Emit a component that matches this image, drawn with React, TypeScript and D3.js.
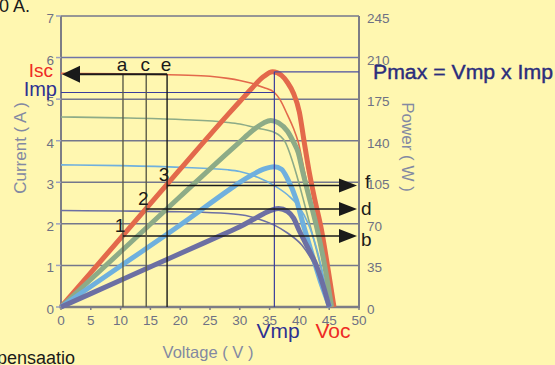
import React from "react";
import * as d3 from "d3";

const voltTicks = [0, 5, 10, 15, 20, 25, 30, 35, 40, 45, 50];
const currentTicks = [0, 1, 2, 3, 4, 5, 6, 7];
const powerTicks = [0, 35, 70, 105, 140, 175, 210, 245];

// I-V curves [volts, amps]
const redIV = [[0, 5.62], [10, 5.61], [20, 5.58], [25, 5.55], [28, 5.5], [30, 5.45], [32, 5.38], [34, 5.28], [35.8, 5.16], [36.7, 5.0], [38, 4.62], [39, 4.3], [39.8, 3.97], [40.8, 3.29], [42, 2.5], [43.5, 1.4], [45.6, 0]];
const greenIV = [[0, 4.57], [10, 4.55], [20, 4.51], [28, 4.44], [30, 4.4], [33, 4.3], [35.8, 4.2], [37.6, 3.97], [39.3, 3.29], [41, 2.4], [43, 1.3], [45.3, 0]];
const lightIV = [[0, 3.42], [10, 3.4], [20, 3.36], [28, 3.3], [30, 3.26], [33, 3.12], [35.8, 2.92], [38, 2.7], [40, 2.4], [41.5, 2.0], [43, 1.35], [45.1, 0]];
const darkIV = [[0, 2.32], [10, 2.31], [20, 2.29], [28, 2.25], [31, 2.2], [33.5, 2.1], [35.8, 1.97], [38, 1.78], [40.4, 1.49], [42, 1.15], [43.5, 0.7], [45, 0]];

// P-V curves [volts, watts]
const redP = [[0, 0], [10, 58], [20, 116], [28, 162], [30, 173], [32, 184], [34, 194], [35.5, 198], [37, 195], [38, 189], [39, 180], [40, 164], [40.8, 139], [41.6, 115], [42.6, 90], [43.7, 65], [44.8, 32], [45.8, 0]];
const greenP = [[0, 0], [10, 46.5], [20, 93], [28, 130], [30, 139], [32, 148], [34, 155], [35.2, 157], [36.5, 155], [38, 148], [39, 139], [39.8, 130], [40.5, 115], [41.5, 95], [43, 65], [44.2, 36], [45.4, 0]];
const lightP = [[0, 0], [10, 34.5], [20, 69], [28, 98], [30, 105], [32, 111], [34, 116], [35.8, 118], [37, 116], [38, 108], [39.5, 90], [40.5, 72], [41.8, 50], [43.5, 22], [45.1, 0]];
const darkP = [[0, 0], [10, 22.5], [20, 45], [28, 63], [30, 67.5], [32, 73], [34, 78.5], [36.5, 83], [38, 80.5], [39, 75], [40, 64], [41, 54], [42, 44], [43, 33], [44, 18], [45, 0]];

const curveColors = ["#e3694b", "#8dab87", "#6fb0de", "#6c6fa3"];
const ivCurves = [redIV, greenIV, lightIV, darkIV];
const pCurves = [redP, greenP, lightP, darkP];

const markerVolts = [10.4, 14.3, 17.8];
const markerLetters = ["a", "c", "e"];
const arrowPowers = [59.8, 82.5, 102.3];
const arrowLetters = ["b", "d", "f"];
const pointLabels = ["1", "2", "3"];

const isc = 5.6;
const imp = 5.16;
const vmp = 35.8;
const pmax = 198;

const W = 555;
const H = 365;
const font = "Liberation Sans, Arial, sans-serif";

export default function App() {
  const x = d3.scaleLinear().domain([0, 50]).range([61, 359]);
  const yI = d3.scaleLinear().domain([0, 7]).range([307, 16]);
  const yP = d3.scaleLinear().domain([0, 245]).range([307, 16]);

  const ivLine = d3
    .line<number[]>()
    .x((d) => x(d[0]))
    .y((d) => yI(d[1]))
    .curve(d3.curveMonotoneX);
  const pLine = d3
    .line<number[]>()
    .x((d) => x(d[0]))
    .y((d) => yP(d[1]))
    .curve(d3.curveMonotoneX);

  const tickColor = "#6e7184";
  const titleColor = "#8389a2";
  const arrowTip = x(50) - 2;

  return (
    <svg
      width={W}
      height={H}
      style={{ position: "absolute", left: 0, top: 0, background: "#fff7b0" }}
      fontFamily={font}
    >
      <rect width={W} height={H} fill="#fff7b0" />

      {/* horizontal grid */}
      {currentTicks.slice(1).map((t) => (
        <line key={t} x1={x(0)} x2={x(50)} y1={yI(t)} y2={yI(t)}
          stroke={t === 6 ? "#6f74a8" : "#74778c"} strokeWidth={1.5} />
      ))}

      {/* axes */}
      <line x1={x(0)} x2={x(0)} y1={yI(7)} y2={yI(0)} stroke="#7d7d85" strokeWidth={2} />
      <line x1={x(50)} x2={x(50)} y1={yI(7)} y2={yI(0)} stroke="#7d7d85" strokeWidth={2} />
      <line x1={x(0) - 2} x2={x(50) + 1} y1={yI(0)} y2={yI(0)} stroke="#7d7d85" strokeWidth={2.5} />

      {currentTicks.map((t) => (
        <g key={t}>
          <line x1={x(0) - 5} x2={x(0)} y1={yI(t)} y2={yI(t)} stroke="#9aa0c0" strokeWidth={1.5} />
          <text x={x(0) - 7} y={yI(t) + 7} textAnchor="end" fontSize={13.5} fill={tickColor}>{t}</text>
        </g>
      ))}
      {voltTicks.map((v) => (
        <g key={v}>
          <line x1={x(v)} x2={x(v)} y1={yI(0)} y2={yI(0) + 3} stroke="#7d7d85" strokeWidth={1.5} />
          <text x={x(v)} y={325} textAnchor="middle" fontSize={13.5} fill={tickColor}>{v}</text>
        </g>
      ))}
      {powerTicks.map((p) => (
        <text key={p} x={x(50) + 8} y={yP(p) + 7} fontSize={13.5} fill={tickColor}>{p}</text>
      ))}

      {/* I-V curves */}
      {ivCurves.map((c, i) => (
        <path key={i} d={ivLine(c) || ""} fill="none" stroke={curveColors[i]} strokeWidth={1.6} />
      ))}
      {/* P-V curves */}
      {pCurves.map((c, i) => (
        <path key={i} d={pLine(c) || ""} fill="none" stroke={curveColors[i]} strokeWidth={5} />
      ))}

      {/* Vmp / Imp / Pmax guides */}
      <line x1={x(vmp)} x2={x(vmp)} y1={yP(pmax)} y2={yI(0)} stroke="#3a3d9c" strokeWidth={1.2} />
      <line x1={x(vmp)} x2={x(50)} y1={yP(pmax)} y2={yP(pmax)} stroke="#4a4ea0" strokeWidth={1.2} />
      <line x1={x(0)} x2={x(vmp)} y1={yI(imp)} y2={yI(imp)} stroke="#3a3d9c" strokeWidth={1.2} />

      {/* a c e markers */}
      {markerVolts.map((v, i) => (
        <g key={i}>
          <line x1={x(v)} x2={x(v)} y1={yI(isc)} y2={yI(0)}
            stroke={i === 2 ? "#1a1a1a" : "#5b5b48"} strokeWidth={1.4} />
          <text x={x(v) - 1} y={71} textAnchor="middle" fontSize={19} fill="#1a1a1a">{markerLetters[i]}</text>
          <line x1={x(v)} x2={arrowTip - 10} y1={yP(arrowPowers[i])} y2={yP(arrowPowers[i])} stroke="#1a1a1a" strokeWidth={1.6} />
          <path
            d={`M${arrowTip},${yP(arrowPowers[i])}L${arrowTip - 18},${yP(arrowPowers[i]) - 7}L${arrowTip - 18},${yP(arrowPowers[i]) + 7}Z`}
            fill="#1a1a1a"
          />
          <text x={x(v) - 3} y={yP(arrowPowers[i]) - 4} textAnchor="middle" fontSize={19} fill="#1a1a1a">{pointLabels[i]}</text>
        </g>
      ))}
      <text x={365} y={188} fontSize={19} fill="#1a1a1a">{arrowLetters[2]}</text>
      <text x={361} y={215} fontSize={19} fill="#1a1a1a">{arrowLetters[1]}</text>
      <text x={361} y={246} fontSize={19} fill="#1a1a1a">{arrowLetters[0]}</text>

      {/* Isc arrow */}
      <line x1={x(markerVolts[2])} x2={x(0) + 15} y1={yI(isc)} y2={yI(isc)} stroke="#1a1a1a" strokeWidth={2} />
      <path
        d={`M${x(0) + 1},${yI(isc)}L${x(0) + 19},${yI(isc) - 8.5}L${x(0) + 19},${yI(isc) + 8.5}Z`}
        fill="#1a1a1a"
      />

      {/* labels */}
      <text x={53} y={77} textAnchor="end" fontSize={19} fill="#ee2a24">Isc</text>
      <text x={57} y={96} textAnchor="end" fontSize={20} fill="#2e3192">Imp</text>
      <text x={373} y={78.5} fontSize={20} fill="#2b2d7c" stroke="#2b2d7c" strokeWidth={0.4}
        textLength={180} lengthAdjust="spacingAndGlyphs">Pmax = Vmp x Imp</text>
      <text x={278} y={338} textAnchor="middle" fontSize={21} fill="#2e3192">Vmp</text>
      <text x={333} y={338} textAnchor="middle" fontSize={21} fill="#ee2a24">Voc</text>

      <text x={208} y={358} textAnchor="middle" fontSize={16.5} fill={titleColor}>Voltage ( V )</text>
      <text transform="translate(26,148) rotate(-90)" textAnchor="middle" fontSize={17} fill={titleColor}>Current ( A )</text>
      <text transform="translate(402,147) rotate(90)" textAnchor="middle" fontSize={17} fill={titleColor}>Power ( W )</text>

      <text x={-11} y={12} fontSize={18} fill="#1a1a1a">10 A.</text>
      <text x={-3} y={364} fontSize={18} fill="#1a1a1a">pensaatio</text>
    </svg>
  );
}
